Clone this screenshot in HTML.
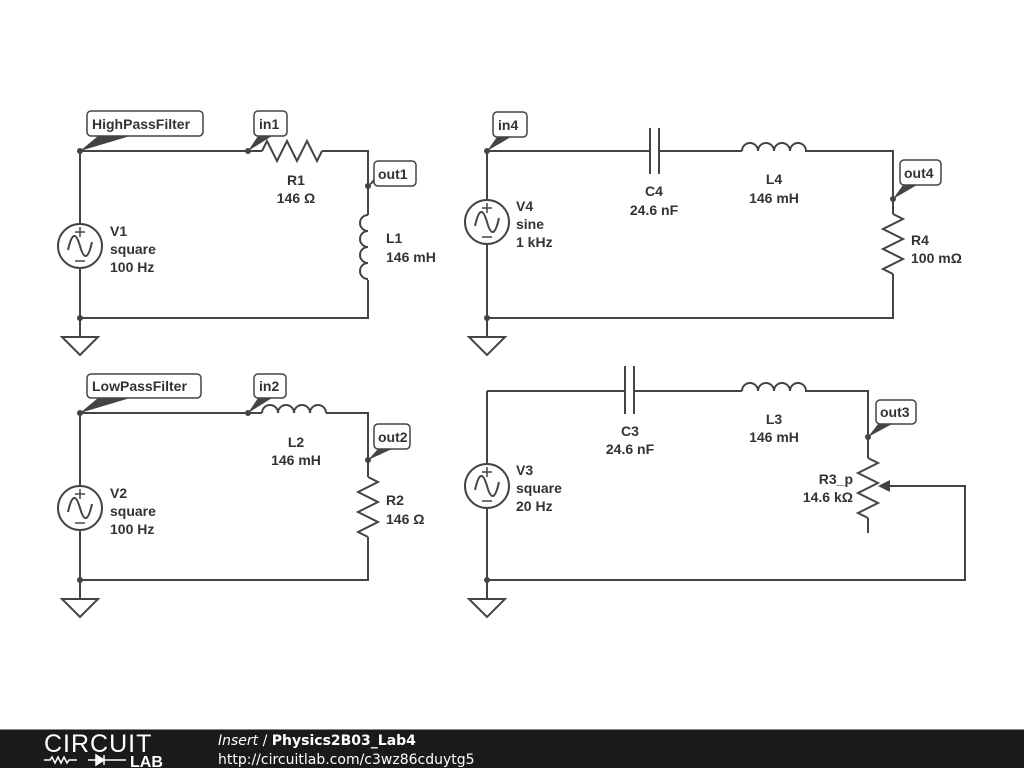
<!DOCTYPE html>
<html><head><meta charset="utf-8"><style>
html,body{margin:0;padding:0;background:#fff;width:1024px;height:768px;overflow:hidden}
svg text{font-family:"Liberation Sans",Arial,sans-serif;font-weight:bold;font-size:14px;fill:#333}
.w{stroke:#444;stroke-width:2;fill:none}
</style></head><body>
<svg width="1024" height="768" viewBox="0 0 1024 768" xmlns="http://www.w3.org/2000/svg" font-family="Liberation Sans, Arial, sans-serif">
<defs>
<g id="src"><circle r="22" fill="#fff" stroke="#444" stroke-width="2"/><path d="M-12,4 C-8,-14 -4,-14 0,0 C4,14 8,14 12,-4" class="w"/><path d="M0,-19 v10 M-5,-14 h10 M-5,15 h10" stroke="#444" stroke-width="1.5"/></g>
<g id="gnd"><path d="M0,0 v19" class="w"/><path d="M-18,19 h36 L0,37 Z" class="w"/></g>
</defs>
<g class="w">
<path d="M80,151 V224 M80,268 V318 H368 V280 M368,215 V151 H322 M262,151 H80"/>
<path d="M262,151 l5,-10 l10,20 l10,-20 l10,20 l10,-20 l10,20 l5,-10"/>
<path d="M368,215 a8,8 0 0 0 0,16 a8,8 0 0 0 0,16 a8,8 0 0 0 0,16 a8,8 0 0 0 0,16"/>
<path d="M80,413 V486 M80,530 V580 H368 V537 M368,477 V413 H326 M262,413 H80"/>
<path d="M262,413 a8,8 0 0 1 16,0 a8,8 0 0 1 16,0 a8,8 0 0 1 16,0 a8,8 0 0 1 16,0"/>
<path d="M368,477 l10,5 l-20,10 l20,10 l-20,10 l20,10 l-20,10 l10,5"/>
<path d="M487,151 V200 M487,244 V318 H893 V274 M893,214 V151 H805 M742,151 H659 M650,151 H487"/>
<path d="M650,128 V174 M659,128 V174"/>
<path d="M742,151 a8,8 0 0 1 16,0 a8,8 0 0 1 16,0 a8,8 0 0 1 16,0 a8,8 0 0 1 16,0"/>
<path d="M893,214 l10,5 l-20,10 l20,10 l-20,10 l20,10 l-20,10 l10,5"/>
<path d="M487,391 V464 M487,508 V580 H965 V486 H882 M868,458 V391 H805 M742,391 H634 M625,391 H487 M868,518 V533"/>
<path d="M625,366 V414 M634,366 V414"/>
<path d="M742,391 a8,8 0 0 1 16,0 a8,8 0 0 1 16,0 a8,8 0 0 1 16,0 a8,8 0 0 1 16,0"/>
<path d="M868,458 l10,5 l-20,10 l20,10 l-20,10 l20,10 l-20,10 l10,5"/>
</g>
<path d="M878,486 l12,-6 v12 Z" fill="#444"/>
<use href="#src" x="80" y="246"/><use href="#src" x="80" y="508"/>
<use href="#src" x="487" y="222"/><use href="#src" x="487" y="486"/>
<use href="#gnd" x="80" y="318"/><use href="#gnd" x="80" y="580"/>
<use href="#gnd" x="487" y="318"/><use href="#gnd" x="487" y="580"/>
<g fill="#444">
<circle cx="80" cy="151" r="3"/><circle cx="248" cy="151" r="3"/><circle cx="368" cy="186" r="3"/><circle cx="80" cy="318" r="3"/>
<circle cx="80" cy="413" r="3"/><circle cx="248" cy="413" r="3"/><circle cx="368" cy="460" r="3"/><circle cx="80" cy="580" r="3"/>
<circle cx="487" cy="151" r="3"/><circle cx="893" cy="199" r="3"/><circle cx="487" cy="318" r="3"/>
<circle cx="868" cy="437" r="3"/><circle cx="487" cy="580" r="3"/>
<path d="M80,151 L98,136 H130 Z"/><path d="M248,151 L258,136 H272 Z"/><path d="M368,186 L378,173 H392 Z"/>
<path d="M80,413 L98,398 H130 Z"/><path d="M248,413 L258,398 H272 Z"/><path d="M368,460 L378,449 H392 Z"/>
<path d="M487,151 L497,137 H511 Z"/><path d="M893,199 L903,185 H917 Z"/><path d="M868,437 L878,424 H892 Z"/>
</g>
<g fill="#fff" stroke="#444" stroke-width="1.5">
<rect x="87" y="111" width="116" height="25" rx="4"/><rect x="254" y="111" width="33" height="25" rx="4"/><rect x="374" y="161" width="42" height="25" rx="4"/>
<rect x="87" y="374" width="114" height="24" rx="4"/><rect x="254" y="374" width="32" height="24" rx="4"/><rect x="374" y="424" width="36" height="25" rx="4"/>
<rect x="493" y="112" width="34" height="25" rx="4"/><rect x="900" y="160" width="41" height="25" rx="4"/><rect x="876" y="400" width="40" height="24" rx="4"/>
</g>
<g>
<text x="92" y="129">HighPassFilter</text><text x="259" y="129">in1</text><text x="378" y="179">out1</text>
<text x="92" y="391">LowPassFilter</text><text x="259" y="391">in2</text><text x="378" y="442">out2</text>
<text x="498" y="130">in4</text><text x="904" y="178">out4</text><text x="880" y="417">out3</text>
</g>
<g text-anchor="middle">
<text x="296" y="185">R1</text><text x="296" y="203">146 Ω</text>
<text x="296" y="447">L2</text><text x="296" y="465">146 mH</text>
<text x="654" y="196">C4</text><text x="654" y="215">24.6 nF</text>
<text x="774" y="184">L4</text><text x="774" y="203">146 mH</text>
<text x="630" y="436">C3</text><text x="630" y="454">24.6 nF</text>
<text x="774" y="424">L3</text><text x="774" y="442">146 mH</text>
</g>
<g>
<text x="110" y="236">V1</text><text x="110" y="254">square</text><text x="110" y="272">100 Hz</text>
<text x="386" y="243">L1</text><text x="386" y="262">146 mH</text>
<text x="110" y="498">V2</text><text x="110" y="516">square</text><text x="110" y="534">100 Hz</text>
<text x="386" y="505">R2</text><text x="386" y="524">146 Ω</text>
<text x="516" y="211">V4</text><text x="516" y="229">sine</text><text x="516" y="247">1 kHz</text>
<text x="911" y="245">R4</text><text x="911" y="263">100 mΩ</text>
<text x="516" y="475">V3</text><text x="516" y="493">square</text><text x="516" y="511">20 Hz</text>
</g>
<g text-anchor="end"><text x="853" y="484">R3_p</text><text x="853" y="502">14.6 kΩ</text></g>
<rect x="0" y="729" width="1024" height="39" fill="#1a1a1a"/>
<rect x="0" y="729" width="1024" height="1" fill="#888"/>
<text x="44" y="752" style="font-weight:normal;font-size:25px;fill:#fff;letter-spacing:1px">CIRCUIT</text>
<path d="M44,760 h6 l2,-3 l3,6 l3,-6 l3,6 l3,-6 l3,6 l2,-3 h8 M88,760 h20 M108,760 h18" stroke="#fff" stroke-width="1.5" fill="none"/>
<path d="M96,755 l8,5 l-8,5 Z M104,755 v10" fill="#fff" stroke="#fff" stroke-width="1.5"/>
<text x="130" y="767" style="font-size:16px;fill:#fff">LAB</text>
<text x="218" y="745" style="font-family:'DejaVu Sans',sans-serif;font-size:14px;fill:#fff;font-weight:normal"><tspan font-style="italic">Insert</tspan> / <tspan font-weight="bold">Physics2B03_Lab4</tspan></text>
<text x="218" y="764" style="font-family:'DejaVu Sans',sans-serif;font-size:14px;fill:#fff;font-weight:normal">http://circuitlab.com/c3wz86cduytg5</text>
</svg>
</body></html>
